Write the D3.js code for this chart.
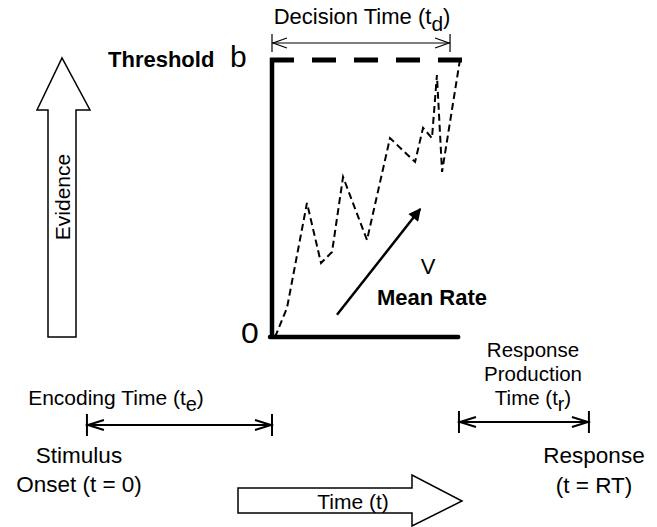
<!DOCTYPE html>
<html><head><meta charset="utf-8">
<script src="https://cdn.jsdelivr.net/npm/d3@7"></script>
<style>body{margin:0;background:#fff}svg{display:block}text{font-family:"Liberation Sans",Arial,Helvetica,sans-serif;fill:#000}</style>
</head><body>
<svg id="c" width="657" height="527"></svg>
<script>
// Evidence accumulation sample path (time within decision window 0..1, evidence 0..b where b=1)
const pathTime     = [0.016, 0.079, 0.184, 0.258, 0.316, 0.374, 0.500, 0.621, 0.753, 0.795, 0.842, 0.868, 0.895, 0.989];
const pathEvidence = [0.000, 0.105, 0.484, 0.267, 0.307, 0.578, 0.350, 0.718, 0.632, 0.755, 0.718, 0.946, 0.596, 1.000];
// Interval labels and extents (time units, decision window = 0..1)
const intervalNames  = ["Decision Time", "Encoding Time", "Response Production Time"];
const intervalStart  = [0.000, -0.974, 0.984];
const intervalEnd    = [0.937, 0.000, 1.668];
const thresholdLabel = "Threshold";
const thresholdSym   = "b";
const zeroLabel      = "0";
const rateSym        = "V";
const rateLabel      = "Mean Rate";

const svg = d3.select("#c");
const x = d3.scaleLinear().domain([0, 1]).range([272, 462]);
const y = d3.scaleLinear().domain([0, 1]).range([337, 60]);

// Axes of the decision box
svg.append("line").attr("x1", x(0)).attr("x2", x(0)).attr("y1", y(1) - 2).attr("y2", y(0) + 2)
  .attr("stroke", "#000").attr("stroke-width", 4.5);
svg.append("line").attr("x1", x(0) - 2).attr("x2", x(0.98)).attr("y1", y(0)).attr("y2", y(0))
  .attr("stroke", "#000").attr("stroke-width", 4.5).attr("stroke-linecap", "round");
// Threshold dashed line
svg.append("line").attr("x1", x(0) - 2).attr("x2", x(1)).attr("y1", y(1)).attr("y2", y(1))
  .attr("stroke", "#000").attr("stroke-width", 5).attr("stroke-dasharray", "24,18").attr("stroke-linecap", "butt");

// Sample path
const pts = pathTime.map((t, i) => [x(t), y(pathEvidence[i])]);
svg.append("path").attr("d", d3.line()(pts)).attr("fill", "none").attr("stroke", "#000")
  .attr("stroke-width", 2).attr("stroke-dasharray", "7,4");

// Mean rate arrow
const defs = svg.append("defs");
defs.append("marker").attr("id", "tri").attr("viewBox", "0 0 10 10").attr("refX", 9).attr("refY", 5)
  .attr("markerWidth", 5.5).attr("markerHeight", 5).attr("orient", "auto")
  .append("path").attr("d", "M0,0L10,5L0,10Z").attr("fill", "#000");
svg.append("line").attr("x1", x(0.342)).attr("y1", y(0.08)).attr("x2", x(0.78)).attr("y2", y(0.462))
  .attr("stroke", "#000").attr("stroke-width", 2.5).attr("marker-end", "url(#tri)");
svg.append("text").attr("x", 428).attr("y", 274).attr("text-anchor", "middle").attr("font-size", 22).text(rateSym);
svg.append("text").attr("x", 432).attr("y", 305).attr("text-anchor", "middle").attr("font-size", 22)
  .attr("font-weight", "bold").text(rateLabel);

// Threshold & zero labels
svg.append("text").attr("x", 108).attr("y", 67).attr("font-size", 22).attr("font-weight", "bold").text(thresholdLabel);
svg.append("text").attr("x", 230).attr("y", 67).attr("font-size", 30).text(thresholdSym);
svg.append("text").attr("transform", "translate(241,343) scale(1.1,1)").attr("font-size", 29).text(zeroLabel);

// Evidence block arrow
const evid = [[48,337],[76,337],[76,110],[90,110],[62,58],[37,110],[48,110]];
svg.append("path").attr("d", d3.line()(evid) + "Z").attr("fill", "#fff").attr("stroke", "#000").attr("stroke-width", 1.5);
svg.append("text").attr("transform", "translate(70,197) rotate(-90)").attr("text-anchor", "middle")
  .attr("font-size", 21).text("Evidence");

// Time block arrow
const timeArr = [[238,488],[412,488],[412,475],[462,501],[412,526],[412,513],[238,513]];
svg.append("path").attr("d", d3.line()(timeArr) + "Z").attr("fill", "#fff").attr("stroke", "#000").attr("stroke-width", 1.5);
svg.append("text").attr("x", 353).attr("y", 509).attr("text-anchor", "middle").attr("font-size", 21).text("Time (t)");

// Interval arrows
function interval(i, yy, half, sw, chevL) {
  const a = x(intervalStart[i]), b = x(intervalEnd[i]);
  const g = svg.append("g").attr("stroke", "#000").attr("fill", "none").attr("stroke-width", sw);
  g.append("line").attr("x1", a).attr("x2", b).attr("y1", yy).attr("y2", yy);
  g.append("line").attr("x1", a).attr("x2", a).attr("y1", yy - half).attr("y2", yy + half);
  g.append("line").attr("x1", b).attr("x2", b).attr("y1", yy - half).attr("y2", yy + half);
  g.append("path").attr("d", `M${a + chevL},${yy - 5}L${a + 1},${yy}L${a + chevL},${yy + 5}`);
  g.append("path").attr("d", `M${b - chevL},${yy - 5}L${b - 1},${yy}L${b - chevL},${yy + 5}`);
}
interval(0, 43, 9, 1.2, 15);
interval(1, 425, 11, 2, 17);
interval(2, 422, 11, 2, 17);

// Interval labels with subscripts
function subLabel(xc, yb, main, sub, size) {
  const t = svg.append("text").attr("x", xc).attr("y", yb).attr("text-anchor", "middle").attr("font-size", size);
  t.append("tspan").text(main + " (t");
  t.append("tspan").attr("dy", size * 0.3).attr("font-size", size * 0.95).text(sub);
  t.append("tspan").attr("dy", -size * 0.3).text(")");
}
subLabel(362, 24, intervalNames[0], "d", 22);
subLabel(116, 405, intervalNames[1], "e", 21);
svg.append("text").attr("x", 533).attr("y", 357).attr("text-anchor", "middle").attr("font-size", 20.5).text("Response");
svg.append("text").attr("x", 533).attr("y", 381).attr("text-anchor", "middle").attr("font-size", 20.5).text("Production");
subLabel(533, 405, "Time", "r", 20.5);

// Stimulus / Response labels
svg.append("text").attr("x", 79).attr("y", 463).attr("text-anchor", "middle").attr("font-size", 22.5).text("Stimulus");
svg.append("text").attr("x", 79).attr("y", 492).attr("text-anchor", "middle").attr("font-size", 22.5).text("Onset (t = 0)");
svg.append("text").attr("x", 594).attr("y", 463).attr("text-anchor", "middle").attr("font-size", 22.5).text("Response");
svg.append("text").attr("x", 594).attr("y", 493).attr("text-anchor", "middle").attr("font-size", 22.5).text("(t = RT)");
</script>
</body></html>
